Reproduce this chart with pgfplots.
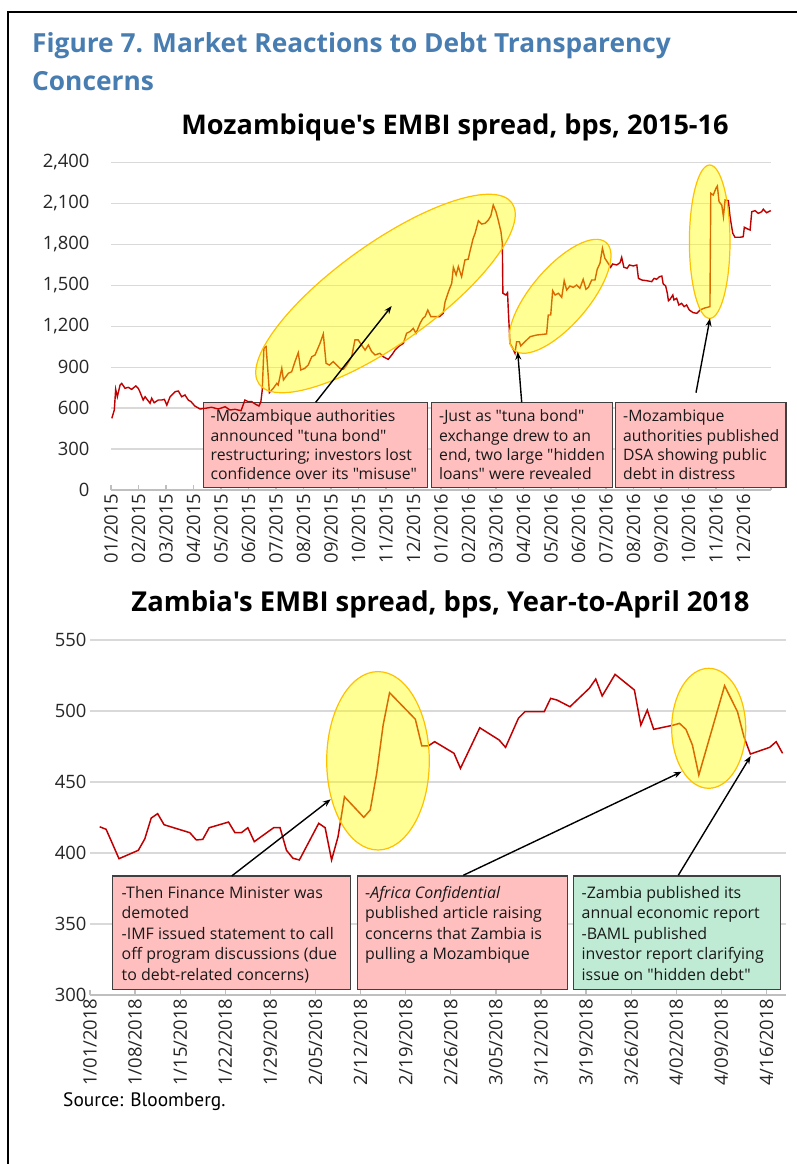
\documentclass[border=0pt]{standalone}
\usepackage{pgfplots}
\pgfplotsset{compat=1.18}
\usepackage{fontspec}
\setmainfont{Open Sans}[Ligatures=TeXOff]
\newfontfamily\ptsans{PT Sans}
\usetikzlibrary{arrows.meta}
\definecolor{linered}{RGB}{192,0,0}
\definecolor{gridgray}{RGB}{217,217,217}
\definecolor{axisgray}{RGB}{191,191,191}
\definecolor{titleblue}{RGB}{72,125,178}
\definecolor{pinkbox}{RGB}{255,191,191}
\definecolor{greenbox}{RGB}{191,234,212}
\definecolor{boxborder}{RGB}{64,64,64}
\definecolor{ellfill}{RGB}{255,255,0}
\definecolor{ellborder}{RGB}{255,192,0}
\definecolor{tickcol}{RGB}{38,38,38}
\pgfplotsset{embi/.style={scale only axis, clip=false,
  axis x line*=bottom, axis y line*=left,
  y axis line style={draw=none},
  x axis line style={draw=axisgray,line width=1.3bp},
  ymajorgrids, grid style={draw=gridgray,line width=1.2bp},
  tick align=inside, major tick length=5bp,
  xtick style={draw=axisgray,line width=1.3bp},
  ytick style={draw=none},
  tick label style={font=\fontsize{18.5}{20}\selectfont, text=tickcol},
  xticklabel style={rotate=90, anchor=east},
  /pgf/number format/assume math mode=true,
  /pgf/number format/fixed,
  /pgf/number format/1000 sep={,},
  scaled y ticks=false}}
\newcommand\boxtext[4]{\foreach \t [count=\i from 0] in {#4} {\node[anchor=base west, inner sep=0] at (#1,#2+#3*\i) {\t};}}
\begin{document}
\begin{tikzpicture}
\useasboundingbox (0,0) rectangle (797bp,-1164bp);
% ---------- Top chart ----------
\begin{axis}[embi, at={(111bp,-490bp)}, anchor=south west, width=660bp, height=327.7bp,
  xmin=0, xmax=24, ymin=0, ymax=2400, ytick={0,300,...,2400},
  xtick={0,1,...,24},
  xticklabels={01/2015,02/2015,03/2015,04/2015,05/2015,06/2015,07/2015,08/2015,09/2015,10/2015,11/2015,12/2015,01/2016,02/2016,03/2016,04/2016,05/2016,06/2016,07/2016,08/2016,09/2016,10/2016,11/2016,12/2016,{}},
  yticklabel style={xshift=-18bp}]
\draw[fill=pinkbox, draw=boxborder, line width=1.3bp] (3.356,642.3) rectangle (11.502,19.8);
\draw[fill=pinkbox, draw=boxborder, line width=1.3bp] (11.662,642.3) rectangle (18.229,19.8);
\draw[fill=pinkbox, draw=boxborder, line width=1.3bp] (18.353,642.3) rectangle (24.545,19.8);
\addplot[linered, line width=1.4bp, no marks] coordinates {
(0.03,525)(0.12,586)(0.17,737)(0.23,683)(0.33,769)(0.39,781)(0.51,745)(0.63,752)(0.75,737)(0.90,762)(0.99,745)(1.05,720)(1.17,659)(1.24,683)(1.33,659)(1.42,635)(1.48,672)(1.57,639)(1.72,659)(1.84,659)(1.94,664)(2.03,622)(2.15,683)(2.33,720)(2.45,725)(2.57,683)(2.69,696)(2.81,659)(2.91,647)(3.05,615)(3.24,593)(3.42,598)(3.66,606)(3.90,593)(4.15,610)(4.33,586)(4.51,591)(4.73,581)(4.87,659)(4.99,647)(5.12,647)(5.24,630)(5.38,615)(5.45,647)(5.50,732)(5.56,1038)(5.64,1050)(5.72,830)(5.76,713)(5.90,745)(6.03,781)(6.08,769)(6.21,891)(6.27,806)(6.45,855)(6.57,866)(6.69,940)(6.81,1006)(6.90,879)(7.05,891)(7.17,915)(7.30,976)(7.42,989)(7.60,1074)(7.72,1143)(7.82,928)(7.94,915)(8.08,940)(8.21,915)(8.33,891)(8.45,884)(8.57,915)(8.75,976)(8.87,1099)(8.99,1099)(9.15,1050)(9.24,1025)(9.36,1062)(9.48,1013)(9.60,989)(9.78,1001)(9.90,976)(10.08,957)(10.21,989)(10.33,1025)(10.45,1050)(10.63,1074)(10.75,1148)(10.87,1160)(10.99,1184)(11.09,1148)(11.24,1221)(11.34,1257)(11.42,1270)(11.52,1318)(11.63,1270)(11.94,1270)(12.08,1294)(12.15,1379)(12.27,1452)(12.39,1514)(12.45,1631)(12.55,1575)(12.63,1636)(12.75,1562)(12.87,1685)(12.99,1690)(13.05,1745)(13.17,1843)(13.24,1880)(13.36,1972)(13.48,1948)(13.60,1953)(13.72,1977)(13.81,2007)(13.90,2087)(14.00,2038)(14.08,1977)(14.18,1892)(14.23,1807)(14.25,1441)(14.36,1428)(14.42,1445)(14.45,1306)(14.51,1074)(14.61,1038)(14.69,1001)(14.75,1086)(14.85,1086)(14.90,1055)(14.99,1074)(15.12,1099)(15.24,1123)(15.48,1135)(15.84,1143)(15.90,1282)(15.99,1282)(16.06,1460)(16.15,1428)(16.27,1441)(16.39,1411)(16.48,1533)(16.57,1465)(16.69,1494)(16.81,1484)(16.93,1501)(17.05,1477)(17.17,1543)(17.27,1470)(17.36,1484)(17.48,1538)(17.60,1538)(17.68,1616)(17.78,1660)(17.87,1770)(17.96,1697)(18.08,1660)(18.17,1631)(18.24,1655)(18.39,1648)(18.51,1665)(18.57,1704)(18.65,1631)(18.77,1624)(18.85,1648)(18.99,1641)(19.12,1648)(19.18,1550)(19.30,1538)(19.48,1533)(19.66,1526)(19.75,1550)(19.84,1543)(19.94,1562)(20.03,1567)(20.08,1509)(20.17,1494)(20.23,1441)(20.27,1386)(20.33,1397)(20.43,1428)(20.47,1392)(20.57,1404)(20.65,1355)(20.75,1367)(20.84,1343)(20.93,1355)(21.03,1318)(21.17,1299)(21.30,1294)(21.42,1318)(21.56,1331)(21.78,1343)(21.81,2173)(21.90,2160)(22.00,2210)(22.05,2226)(22.11,2112)(22.21,2087)(22.27,2002)(22.33,2124)(22.45,2119)(22.51,2002)(22.61,1880)(22.69,1851)(22.87,1851)(22.99,1855)(23.03,1924)(23.18,1909)(23.24,1904)(23.30,2038)(23.42,2046)(23.54,2026)(23.66,2038)(23.72,2056)(23.84,2031)(23.99,2046)
};
\end{axis}
% ---------- Bottom chart ----------
\begin{axis}[embi, at={(90bp,-995bp)}, anchor=south west, width=695.8bp, height=355bp,
  xmin=0, xmax=108, ymin=300, ymax=550, ytick={300,350,...,550},
  xtick={0,7,...,105},
  xticklabels={1/01/2018,1/08/2018,1/15/2018,1/22/2018,1/29/2018,2/05/2018,2/12/2018,2/19/2018,2/26/2018,3/05/2018,3/12/2018,3/19/2018,3/26/2018,4/02/2018,4/09/2018,4/16/2018},
  yticklabel style={xshift=0bp}]
\draw[fill=pinkbox, draw=boxborder, line width=1.3bp] (3.523,383.8) rectangle (40.46,304.0);
\draw[fill=pinkbox, draw=boxborder, line width=1.3bp] (41.49,383.8) rectangle (74.14,304.0);
\draw[fill=greenbox, draw=boxborder, line width=1.3bp] (75.01,383.8) rectangle (107.2,304.0);
\addplot[linered, line width=1.5bp, no marks] coordinates {
(1.5,418.5)(2.5,416.7)(3.5,406.4)(4.5,396.0)(7.5,401.9)(8.5,409.9)(9.5,424.6)(10.5,427.7)(11.5,419.9)(15.5,414.3)(16.5,409.2)(17.5,409.6)(18.5,417.8)(21.5,421.8)(22.5,414.3)(23.5,414.3)(24.5,417.8)(25.5,408.0)(28.5,417.8)(29.5,417.8)(30.5,401.9)(31.5,396.3)(32.5,395.1)(35.5,420.9)(36.5,417.8)(37.5,395.1)(38.5,411.5)(39.5,439.6)(42.5,425.1)(43.5,430.3)(44.5,456.1)(45.5,490.1)(46.5,512.9)(50.5,494.2)(51.5,475.4)(52.5,475.4)(53.5,478.4)(56.5,470.2)(57.5,459.6)(60.5,488.2)(63.5,479.6)(64.5,474.4)(66.5,494.9)(67.5,499.5)(70.5,499.5)(71.5,508.9)(72.5,507.7)(74.5,503.0)(77.5,516.0)(78.5,522.5)(79.5,510.6)(81.5,525.8)(84.5,514.8)(85.5,490.1)(86.5,500.7)(87.5,487.1)(90.5,490.0)(91.5,491.3)(92.5,487.1)(93.5,476.1)(94.5,454.9)(98.5,517.8)(100.5,499.5)(101.5,481.9)(102.5,469.7)(105.5,474.4)(106.5,478.4)(107.5,470.2)
};
\end{axis}
% ---------- Annotations ----------
\begin{scope}[x=1bp,y=-1bp]
\draw[line width=1.2bp] (8,1164) -- (8,12) -- (797,12);
\node[anchor=base west, inner sep=0, text=titleblue, font=\bfseries\fontsize{26.4}{30}\selectfont] at (32,52.7) {Figure 7. Market Reactions to Debt Transparency};
\node[anchor=base west, inner sep=0, text=titleblue, font=\bfseries\fontsize{26.4}{30}\selectfont] at (32,90) {Concerns};
\node[anchor=base, inner sep=0, font=\bfseries\fontsize{27.2}{30}\selectfont] at (455,134) {Mozambique's EMBI spread, bps, 2015-16};
\node[anchor=base, inner sep=0, font=\bfseries\fontsize{27.5}{30}\selectfont] at (440.5,611) {Zambia's EMBI spread, bps, Year-to-April 2018};
\node[anchor=base west, inner sep=0, font=\ptsans\fontsize{19.5}{22}\selectfont] at (63,1106) {Source: Bloomberg.};
% ellipses
\begin{scope}[draw=ellborder, line width=1.2bp, fill=ellfill, fill opacity=0.42]
\filldraw[shift={(385.5,293.5)}, rotate=35.6] (0,0) ellipse [x radius=155.5bp, y radius=50bp];
\filldraw[shift={(560.1,296.3)}, rotate=49.5] (0,0) ellipse [x radius=70.8bp, y radius=28.7bp];
\filldraw[shift={(709.7,241.7)}] (0,0) ellipse [x radius=20.3bp, y radius=76.7bp];
\filldraw[shift={(378,760.8)}] (0,0) ellipse [x radius=51.3bp, y radius=89.2bp];
\filldraw[shift={(708.7,728.3)}] (0,0) ellipse [x radius=37bp, y radius=60bp];
\end{scope}
% arrows
\begin{scope}[-{Stealth[length=8bp,width=6bp]}, line width=1.4bp]
\draw (315.7,402.3) -- (391.7,306);
\draw (521.7,402.3) -- (517.7,351.7);
\draw (696,392.7) -- (710,318.3);
\draw (231.7,876) -- (330.7,799.3);
\draw (463.3,875.3) -- (681.7,771.7);
\draw (678.3,875.3) -- (750.7,756);
\end{scope}
% box texts
\begin{scope}[font=\fontsize{15.8}{19}\selectfont, text=black!90]
\boxtext{210.5}{421.7}{19.4}{{-Mozambique authorities},{announced "tuna bond"},{restructuring; investors lost},{confidence over its "misuse"}}
\boxtext{439}{421.7}{19.4}{{-Just as "tuna bond"},{exchange drew to an},{end, two large "hidden},{loans" were revealed}}
\boxtext{623}{421.7}{19.4}{{-Mozambique},{authorities published},{DSA showing public},{debt in distress}}
\end{scope}
\begin{scope}[font=\fontsize{16}{19}\selectfont, text=black!90]
\boxtext{121.5}{898.3}{20.5}{{-Then Finance Minister was},{demoted},{-IMF issued statement to call},{off program discussions (due},{to debt-related concerns)}}
\boxtext{365}{898.3}{20.5}{{-\textit{Africa Confidential}},{published article raising},{concerns that Zambia is},{pulling a Mozambique}}
\boxtext{581.5}{898.3}{20.5}{{-Zambia published its},{annual economic report},{-BAML published},{investor report clarifying},{issue on "hidden debt"}}
\end{scope}
\end{scope}
\end{tikzpicture}
\end{document}
